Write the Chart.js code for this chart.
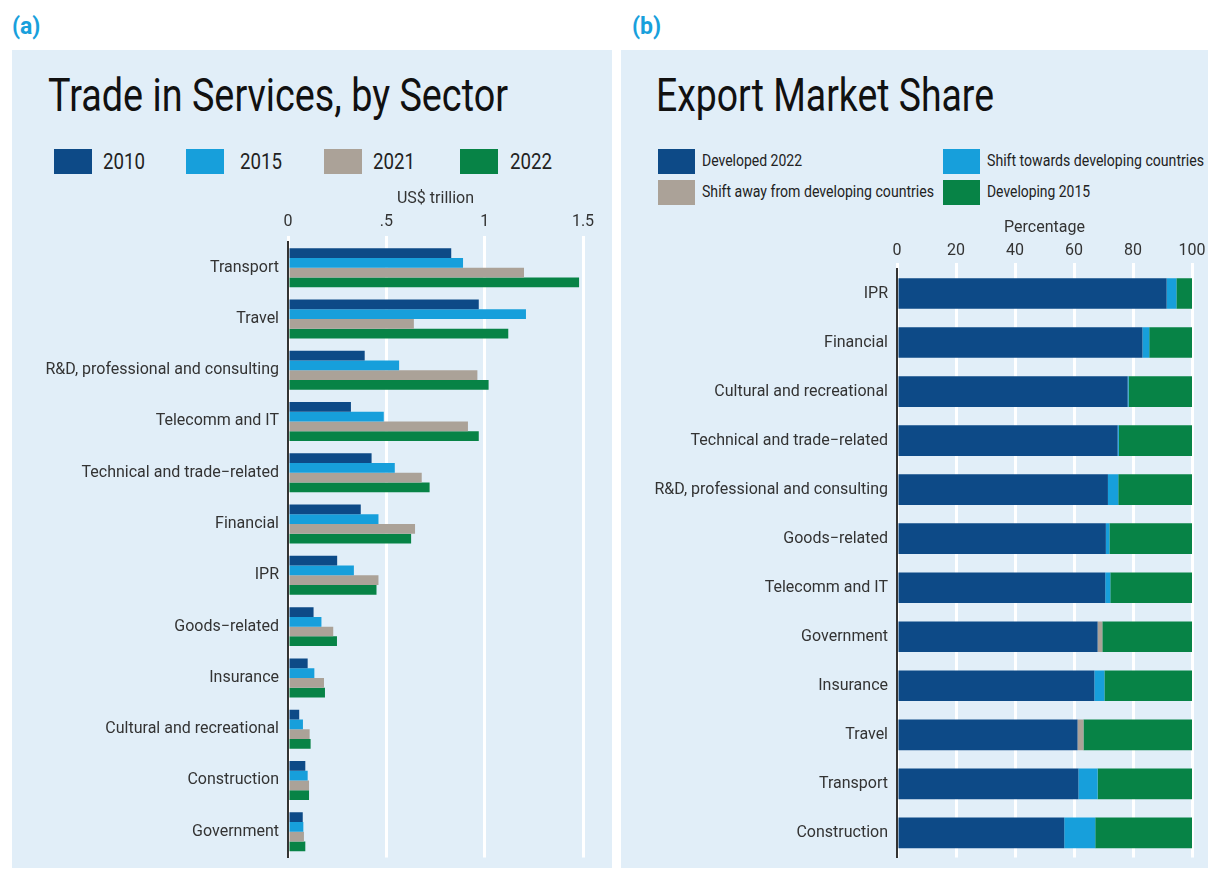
<!DOCTYPE html>
<html>
<head>
<meta charset="utf-8">
<script src="https://cdn.jsdelivr.net/npm/chart.js@4"></script>
<style>
body{margin:0;width:1208px;height:870px;background:#fff;position:relative;overflow:hidden;font-family:Roboto,sans-serif}
.tag{position:absolute;top:13px;font-weight:bold;font-size:23px;color:#18a0dc}
.panel{position:absolute;top:50px;height:818px;background:#e1eef8}
.title{position:absolute;top:72px;font-size:46px;color:#111;white-space:nowrap;transform-origin:left top;line-height:1}
.box{position:absolute;width:38px;height:25px}
.lt{position:absolute;white-space:nowrap;color:#222;transform-origin:left center;line-height:1}
canvas{position:absolute}
</style>
</head>
<body>
<div class="tag" style="left:12px">(a)</div>
<div class="tag" style="left:632px">(b)</div>
<div class="panel" style="left:12px;width:600px"></div>
<div class="panel" style="left:621px;width:587px"></div>
<div class="title fit" data-w="460" style="left:48px">Trade in Services, by Sector</div>
<div class="title fit" data-w="338" style="left:656px">Export Market Share</div>
<div id="legA"></div>
<div id="legB"></div>
<div style="position:absolute;left:12px;top:180px;width:600px;height:688px"><canvas id="grafA"></canvas></div>
<div style="position:absolute;left:621px;top:205px;width:587px;height:663px"><canvas id="grafB"></canvas></div>
<script>
// (a) Trade in services, US$ trillion
const sectoresA = ['Transport', 'Travel', 'R&D, professional and consulting', 'Telecomm and IT',
    'Technical and trade\u2212related', 'Financial', 'IPR', 'Goods\u2212related', 'Insurance',
    'Cultural and recreational', 'Construction', 'Government']
const anios = ['2010', '2015', '2021', '2022']
const v2010 = [0.83, 0.97, 0.39, 0.32, 0.425, 0.37, 0.25, 0.13, 0.10, 0.057, 0.088, 0.075]
const v2015 = [0.89, 1.21, 0.565, 0.487, 0.543, 0.46, 0.335, 0.17, 0.134, 0.076, 0.10, 0.078]
const v2021 = [1.20, 0.64, 0.963, 0.915, 0.68, 0.646, 0.46, 0.23, 0.183, 0.11, 0.107, 0.081]
const v2022 = [1.48, 1.12, 1.02, 0.97, 0.72, 0.626, 0.45, 0.249, 0.188, 0.115, 0.107, 0.088]
const ticksA = [0, 0.5, 1, 1.5]
const etiquetasTicksA = ['0', '.5', '1', '1.5']

// (b) Export market share, percentage
const sectoresB = ['IPR', 'Financial', 'Cultural and recreational', 'Technical and trade\u2212related',
    'R&D, professional and consulting', 'Goods\u2212related', 'Telecomm and IT', 'Government',
    'Insurance', 'Travel', 'Transport', 'Construction']
const seriesB = ['Developed 2022', 'Shift towards developing countries', 'Shift away from developing countries', 'Developing 2015']
const desarrollados2022 = [91.4, 83.2, 78.2, 74.8, 71.5, 70.8, 70.6, 68.0, 66.9, 61.2, 61.5, 56.7]
const haciaDesarrollo = [3.3, 2.3, 0.3, 0.4, 3.5, 1.2, 1.7, 0, 3.4, 0, 6.5, 10.5]
const lejosDesarrollo = [0, 0, 0, 0, 0, 0, 0, 1.6, 0, 2.0, 0, 0]
const enDesarrollo2015 = [5.3, 14.5, 21.5, 24.8, 25.0, 28.0, 27.7, 30.4, 29.7, 36.8, 32.0, 32.8]
const ticksB = [0, 20, 40, 60, 80, 100]

const colores = ['#0d4a87', '#179fdb', '#aba298', '#078346']
const fuente = 'Roboto'

// leyendas en html
const legA = document.getElementById('legA')
const posA = [[54, 103], [186, 240], [324, 373], [460, 510]]
anios.forEach((a, i) => {
    legA.innerHTML += `<div class="box" style="left:${posA[i][0]}px;top:149px;background:${colores[i]}"></div>` +
        `<div class="lt fit" data-w="42" style="left:${posA[i][1]}px;top:151px;font-size:22px">${a}</div>`
})
const legB = document.getElementById('legB')
const posB = [[658, 149], [943, 149], [658, 180], [943, 180]]
const anchosB = [100, 217, 232, 103]
seriesB.forEach((s, i) => {
    const [x, y] = posB[i]
    legB.innerHTML += `<div class="box" style="left:${x}px;top:${y}px;width:37px;background:${colores[i]}"></div>` +
        `<div class="lt fit" data-w="${anchosB[i]}" style="left:${x + 44}px;top:${y + 4}px;font-size:16px">${s}</div>`
})

document.querySelectorAll('.fit').forEach(el => {
    const w = el.getBoundingClientRect().width
    el.style.transform = `scaleX(${el.dataset.w / w})`
})

Chart.defaults.font.family = fuente
Chart.defaults.color = '#333'
Chart.defaults.animation = false

new Chart(document.getElementById('grafA').getContext('2d'), {
    type: 'bar',
    data: {
        labels: sectoresA,
        datasets: [v2010, v2015, v2021, v2022].map((d, i) => ({
            label: anios[i],
            data: d,
            backgroundColor: colores[i],
            categoryPercentage: 0.76,
            barPercentage: 1
        }))
    },
    options: {
        indexAxis: 'y',
        responsive: true,
        maintainAspectRatio: false,
        layout: { padding: { left: 0, right: 29, top: 0, bottom: 0 } },
        plugins: { legend: { display: false }, tooltip: { enabled: false } },
        scales: {
            x: {
                position: 'top',
                min: 0,
                max: 1.5,
                afterBuildTicks: s => { s.ticks = ticksA.map(v => ({ value: v })) },
                afterFit: s => { s.height = 62 },
                ticks: {
                    font: { size: 16 },
                    padding: 4,
                    callback: v => etiquetasTicksA[ticksA.indexOf(v)]
                },
                grid: { color: '#ffffff', lineWidth: 3, tickLength: 6 },
                border: { display: false },
                title: { display: true, text: 'US$ trillion', font: { size: 16 }, padding: { top: 9, bottom: 0 } }
            },
            y: {
                afterFit: s => { s.width = 276 },
                ticks: { font: { size: 16 }, padding: 1 },
                grid: { display: false },
                border: { color: '#333', width: 2 }
            }
        }
    }
})

new Chart(document.getElementById('grafB').getContext('2d'), {
    type: 'bar',
    data: {
        labels: sectoresB,
        datasets: [desarrollados2022, haciaDesarrollo, lejosDesarrollo, enDesarrollo2015].map((d, i) => ({
            label: seriesB[i],
            data: d,
            backgroundColor: colores[i],
            categoryPercentage: 0.625,
            barPercentage: 1
        }))
    },
    options: {
        indexAxis: 'y',
        responsive: true,
        maintainAspectRatio: false,
        layout: { padding: { left: 0, right: 16, top: 0, bottom: 0 } },
        plugins: { legend: { display: false }, tooltip: { enabled: false } },
        scales: {
            x: {
                position: 'top',
                stacked: true,
                min: 0,
                max: 100,
                afterBuildTicks: s => { s.ticks = ticksB.map(v => ({ value: v })) },
                afterFit: s => { s.height = 64 },
                ticks: { font: { size: 16 }, padding: 2 },
                grid: { color: '#ffffff', lineWidth: 3, tickLength: 6 },
                border: { display: false },
                title: { display: true, text: 'Percentage', font: { size: 16 }, padding: { top: 13, bottom: 0 } }
            },
            y: {
                stacked: true,
                afterFit: s => { s.width = 276 },
                ticks: { font: { size: 16 }, padding: 1 },
                grid: { display: false },
                border: { color: '#333', width: 2 }
            }
        }
    }
})
</script>
</body>
</html>
